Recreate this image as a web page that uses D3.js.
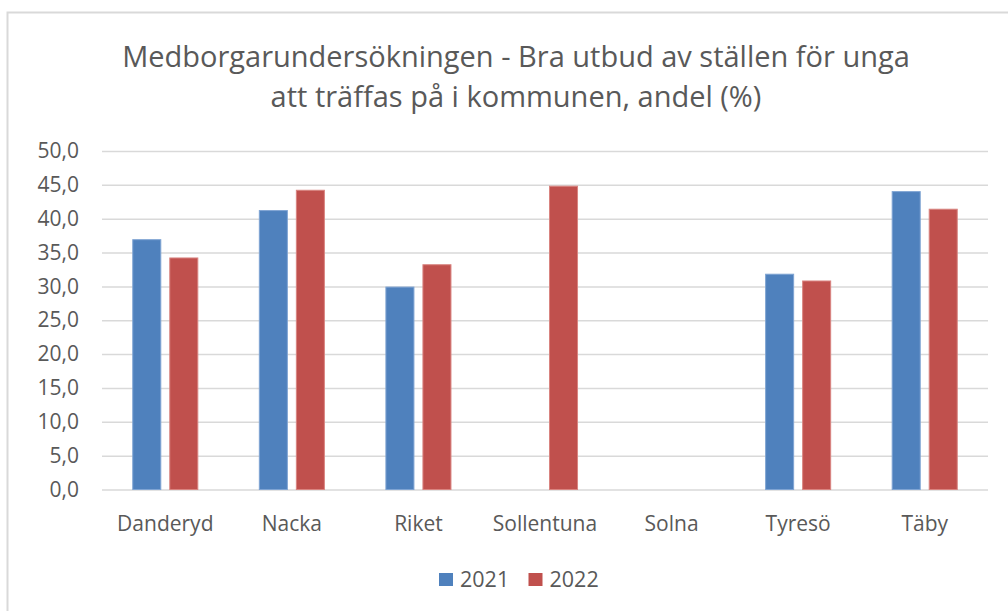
<!DOCTYPE html>
<html>
<head>
<meta charset="utf-8">
<script src="https://cdn.jsdelivr.net/npm/d3@7"></script>
<style>
  body { margin: 0; background: #fff; }
  svg { font-family: "Open Sans", sans-serif; }
</style>
</head>
<body>
<div id="chart"></div>
<script>
// data
var categories = ["Danderyd", "Nacka", "Riket", "Sollentuna", "Solna", "Tyresö", "Täby"];
var years = ["2021", "2022"];
var values2021 = [36.9, 41.2, 29.9, null, null, 31.8, 44.0];
var values2022 = [34.2, 44.2, 33.2, 44.8, null, 30.8, 41.4];
var yTicks = [0, 5, 10, 15, 20, 25, 30, 35, 40, 45, 50];
var colors = ["#4f81bd", "#c0504d"];
var strokes = ["#7fa4d3", "#d98480"];
var titleLines = ["Medborgarundersökningen - Bra utbud av ställen för unga",
                  "att träffas på i kommunen, andel (%)"];

var w = 1008, h = 611;
var padL = 102, padR = 988, padT = 151, padB = 489.5;
var textColor = "#595959";
var font = "'Open Sans', sans-serif";

var svg = d3.select("#chart").append("svg")
    .attr("width", w)
    .attr("height", h);

// chart border
svg.append("rect")
    .attr("x", 7.5).attr("y", 12.5)
    .attr("width", 1030).attr("height", 620)
    .attr("fill", "none")
    .attr("stroke", "#d9d9d9")
    .attr("stroke-width", 2);

// scales
var x0 = d3.scaleBand().domain(categories)
    .range([padL, padR])
    .paddingInner(0.486)
    .paddingOuter(0.243);

var x1 = d3.scaleBand().domain(years)
    .range([0, x0.bandwidth()])
    .paddingInner(0.243);

var y = d3.scaleLinear().domain([0, 50]).range([padB, padT]);

var sv = d3.formatLocale({decimal: ",", thousands: " ", grouping: [3], currency: ["", " kr"]});
var fmt = sv.format(".1f");

// gridlines + y labels
var yAxis = d3.axisLeft(y)
    .tickValues(yTicks)
    .tickSize(-(padR - padL))
    .tickPadding(23)
    .tickFormat(fmt);

var gy = svg.append("g")
    .attr("class", "yaxis")
    .attr("transform", "translate(" + padL + ",0)")
    .call(yAxis)
    .attr("font-family", font);

gy.select(".domain").remove();
gy.selectAll(".tick line")
    .attr("stroke", "#d9d9d9")
    .attr("stroke-width", 1.5);
gy.selectAll(".tick text")
    .attr("fill", textColor)
    .attr("font-size", "21px");

// x labels
var xAxis = d3.axisBottom(x0).tickSize(0).tickPadding(0);
var gx = svg.append("g")
    .attr("class", "xaxis")
    .attr("transform", "translate(0," + padB + ")")
    .call(xAxis)
    .attr("font-family", font);
gx.select(".domain").remove();
gx.selectAll(".tick text")
    .attr("fill", textColor)
    .attr("font-size", "21px")
    .attr("dy", null)
    .attr("y", 41);

// bars
var series = [values2021, values2022];
var rows = [];
series.forEach(function(vals, s) {
    vals.forEach(function(v, i) {
        if (v !== null) rows.push({cat: categories[i], year: years[s], s: s, v: v});
    });
});

svg.append("g").selectAll("rect")
    .data(rows)
    .enter()
    .append("rect")
    .attr("x", d => x0(d.cat) + x1(d.year))
    .attr("y", d => y(d.v))
    .attr("width", x1.bandwidth())
    .attr("height", d => y(0) - y(d.v))
    .attr("fill", d => colors[d.s])
    .attr("stroke", d => strokes[d.s])
    .attr("stroke-width", 1);

// title
svg.append("text")
    .attr("x", 516)
    .attr("y", 67)
    .attr("text-anchor", "middle")
    .attr("fill", textColor)
    .attr("font-size", "29px")
    .selectAll("tspan")
    .data(titleLines)
    .enter()
    .append("tspan")
    .attr("x", 516)
    .attr("dy", (d, i) => i ? 40 : 0)
    .text(d => d);

// legend
var legend = svg.append("g").attr("transform", "translate(439,573)");
var items = legend.selectAll("g").data(years).enter().append("g")
    .attr("transform", (d, i) => "translate(" + (i * 89.5) + ",0)");
items.append("rect")
    .attr("width", 14).attr("height", 13)
    .attr("fill", (d, i) => colors[i]);
items.append("text")
    .attr("x", 21)
    .attr("y", 13.5)
    .attr("fill", textColor)
    .attr("font-size", "21.5px")
    .text(d => d);
</script>
</body>
</html>
